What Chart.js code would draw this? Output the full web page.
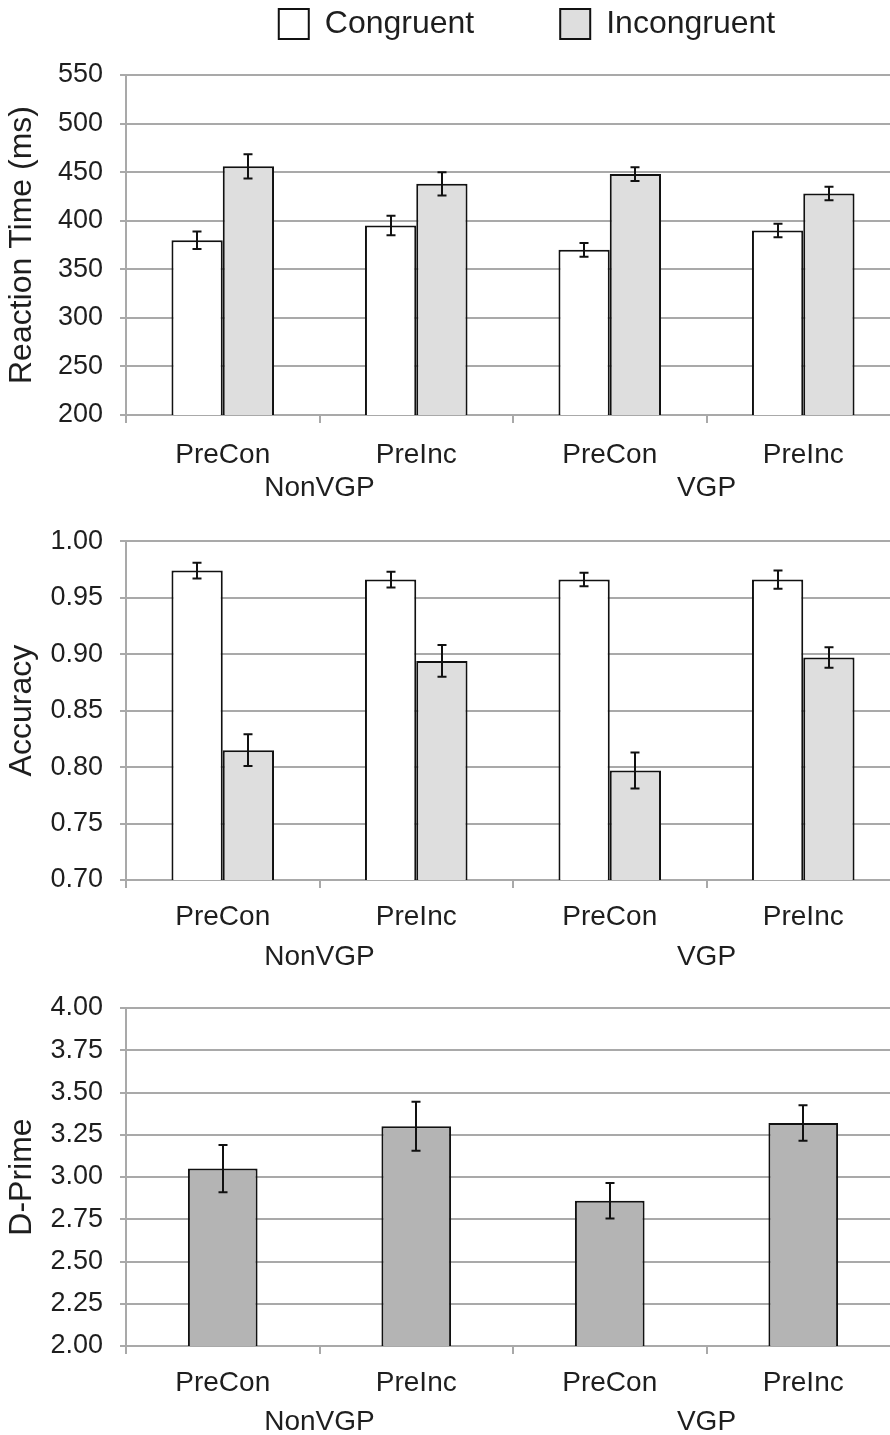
<!DOCTYPE html>
<html>
<head>
<meta charset="utf-8">
<script src="https://cdn.jsdelivr.net/npm/chart.js@4"></script>
<style>
  html, body { margin: 0; padding: 0; background: #fff; overflow: hidden; width: 890px; height: 1435px; }
  canvas { position: absolute; left: 0; }
</style>
</head>
<body>
<canvas id="rtChart" width="900" height="515" style="top:0px;width:900px;height:515px"></canvas>
<canvas id="accChart" width="900" height="457" style="top:508px;width:900px;height:457px"></canvas>
<canvas id="dpChart" width="900" height="470" style="top:965px;width:900px;height:470px"></canvas>
<script>
// categories
const categories = ['PreCon', 'PreInc', 'PreCon', 'PreInc'];
const groups = ['NonVGP', 'VGP'];

// reaction time (ms)
const rtCongruent = [380, 395, 370, 390];
const rtCongruentErr = [9, 10, 7, 7];
const rtIncongruent = [456, 438, 448, 428];
const rtIncongruentErr = [12.5, 12, 7, 7];

// accuracy
const accCongruent = [0.974, 0.966, 0.966, 0.966];
const accCongruentErr = [0.007, 0.007, 0.006, 0.008];
const accIncongruent = [0.815, 0.894, 0.797, 0.897];
const accIncongruentErr = [0.014, 0.014, 0.016, 0.009];

// d-prime
const dPrime = [3.05, 3.30, 2.86, 3.32];
const dPrimeErr = [0.14, 0.145, 0.105, 0.105];

const FONT = '"Liberation Sans", Arial, sans-serif';
const TEXT = '#1e1e1e';
const GRID = '#a9a9a9';

Chart.defaults.font.family = FONT;
Chart.defaults.color = TEXT;

// error bars from dataset.errors, drawn through the y scale
const errorBars = {
    id: 'errorBars',
    afterDatasetsDraw(chart) {
        let ctx = chart.ctx;
        let y = chart.scales.y;
        ctx.save();
        ctx.strokeStyle = '#111';
        ctx.lineWidth = 2;
        chart.data.datasets.forEach(function(ds, i) {
            let meta = chart.getDatasetMeta(i);
            if (!ds.errors) return;
            meta.data.forEach(function(bar, j) {
                let v = ds.data[j], e = ds.errors[j];
                let top = y.getPixelForValue(v + e);
                let bot = y.getPixelForValue(v - e);
                let x = Math.round(bar.x);
                ctx.beginPath();
                ctx.moveTo(x, top); ctx.lineTo(x, bot);
                ctx.moveTo(x - 4.5, top); ctx.lineTo(x + 4.5, top);
                ctx.moveTo(x - 4.5, bot); ctx.lineTo(x + 4.5, bot);
                ctx.stroke();
            });
        });
        ctx.restore();
    }
};

// second row of x labels (NonVGP / VGP), centred under each pair
const groupLabels = {
    id: 'groupLabels',
    afterDraw(chart, args, opts) {
        let ctx = chart.ctx;
        let x = chart.scales.x;
        ctx.save();
        ctx.font = '28px ' + FONT;
        ctx.fillStyle = TEXT;
        ctx.textAlign = 'center';
        ctx.textBaseline = 'middle';
        groups.forEach(function(g, i) {
            let px = x.getPixelForValue(i * 2 + 0.5);
            ctx.fillText(g, px, x.top + opts.offset);
        });
        ctx.restore();
    }
};

// nudge the legend row a little to the right
const legendShift = {
    id: 'legendShift',
    afterLayout(chart, args, opts) {
        if (!chart.legend || !opts.dx) return;
        chart.legend.left += opts.dx;
        chart.legend.right += opts.dx;
    }
};

function makeChart(id, datasets, cfg) {
    return new Chart(document.getElementById(id), {
        type: 'bar',
        data: { labels: categories, datasets: datasets },
        options: {
            responsive: false,
            animation: false,
            layout: { padding: { top: cfg.padTop, right: 0, bottom: 0, left: 0 } },
            datasets: { bar: { categoryPercentage: cfg.catPct, barPercentage: 1.0 } },
            plugins: {
                legend: cfg.legend || { display: false },
                title: cfg.spacer || { display: false },
                tooltip: { enabled: false },
                groupLabels: { offset: cfg.groupOffset },
                legendShift: { dx: cfg.legendDx || 0 }
            },
            scales: {
                x: {
                    grid: { offset: true, drawOnChartArea: false, drawTicks: true, tickLength: 8, color: GRID, lineWidth: 2 },
                    border: { color: GRID, width: 2 },
                    ticks: { font: { size: 28 }, color: TEXT, padding: cfg.tickPad, maxRotation: 0 },
                    afterFit: function(s) { s.height = cfg.xHeight; }
                },
                y: {
                    min: cfg.min, max: cfg.max,
                    grid: { color: GRID, lineWidth: 2, tickLength: 6 },
                    border: { color: GRID, width: 2 },
                    ticks: {
                        stepSize: cfg.step, autoSkip: false, padding: 17,
                        font: { size: 27 }, color: TEXT,
                        callback: function(v) { return v.toFixed(cfg.decimals); }
                    },
                    title: { display: true, text: cfg.title, font: { size: 32 }, color: TEXT, padding: { top: 3, bottom: 0 } },
                    afterFit: function(s) { s.width = 126; }
                }
            }
        },
        plugins: [errorBars, groupLabels, legendShift]
    });
}

makeChart('rtChart', [
    { label: 'Congruent', data: rtCongruent, errors: rtCongruentErr, backgroundColor: '#ffffff', borderColor: '#111', borderWidth: 2 },
    { label: 'Incongruent', data: rtIncongruent, errors: rtIncongruentErr, backgroundColor: '#dedede', borderColor: '#111', borderWidth: 2 }
], {
    padTop: -78, catPct: 0.53, min: 200, max: 550, step: 50, decimals: 0,
    title: 'Reaction Time (ms)', xHeight: 100, tickPad: 15, groupOffset: 73,
    legendDx: 14,
    legend: {
        display: true, position: 'top', fullSize: false,
        labels: { boxWidth: 30, boxHeight: 30, padding: 86, font: { size: 32 }, color: TEXT }
    },
    // empty gap between the legend row and the plot
    spacer: { display: true, text: ' ', position: 'top', fullSize: false, weight: 500, padding: 0, font: { size: 20, lineHeight: 1.25 } }
});

makeChart('accChart', [
    { label: 'Congruent', data: accCongruent, errors: accCongruentErr, backgroundColor: '#ffffff', borderColor: '#111', borderWidth: 2 },
    { label: 'Incongruent', data: accIncongruent, errors: accIncongruentErr, backgroundColor: '#dedede', borderColor: '#111', borderWidth: 2 }
], {
    padTop: 0, catPct: 0.53, min: 0.70, max: 1.00, step: 0.05, decimals: 2,
    title: 'Accuracy', xHeight: 85, tickPad: 12, groupOffset: 77
});

makeChart('dpChart', [
    { label: 'D-Prime', data: dPrime, errors: dPrimeErr, backgroundColor: '#b4b4b4', borderColor: '#111', borderWidth: 2 }
], {
    padTop: 43, catPct: 0.36, min: 2.0, max: 4.0, step: 0.25, decimals: 2,
    title: 'D-Prime', xHeight: 89, tickPad: 12, groupOffset: 76
});
</script>
</body>
</html>
